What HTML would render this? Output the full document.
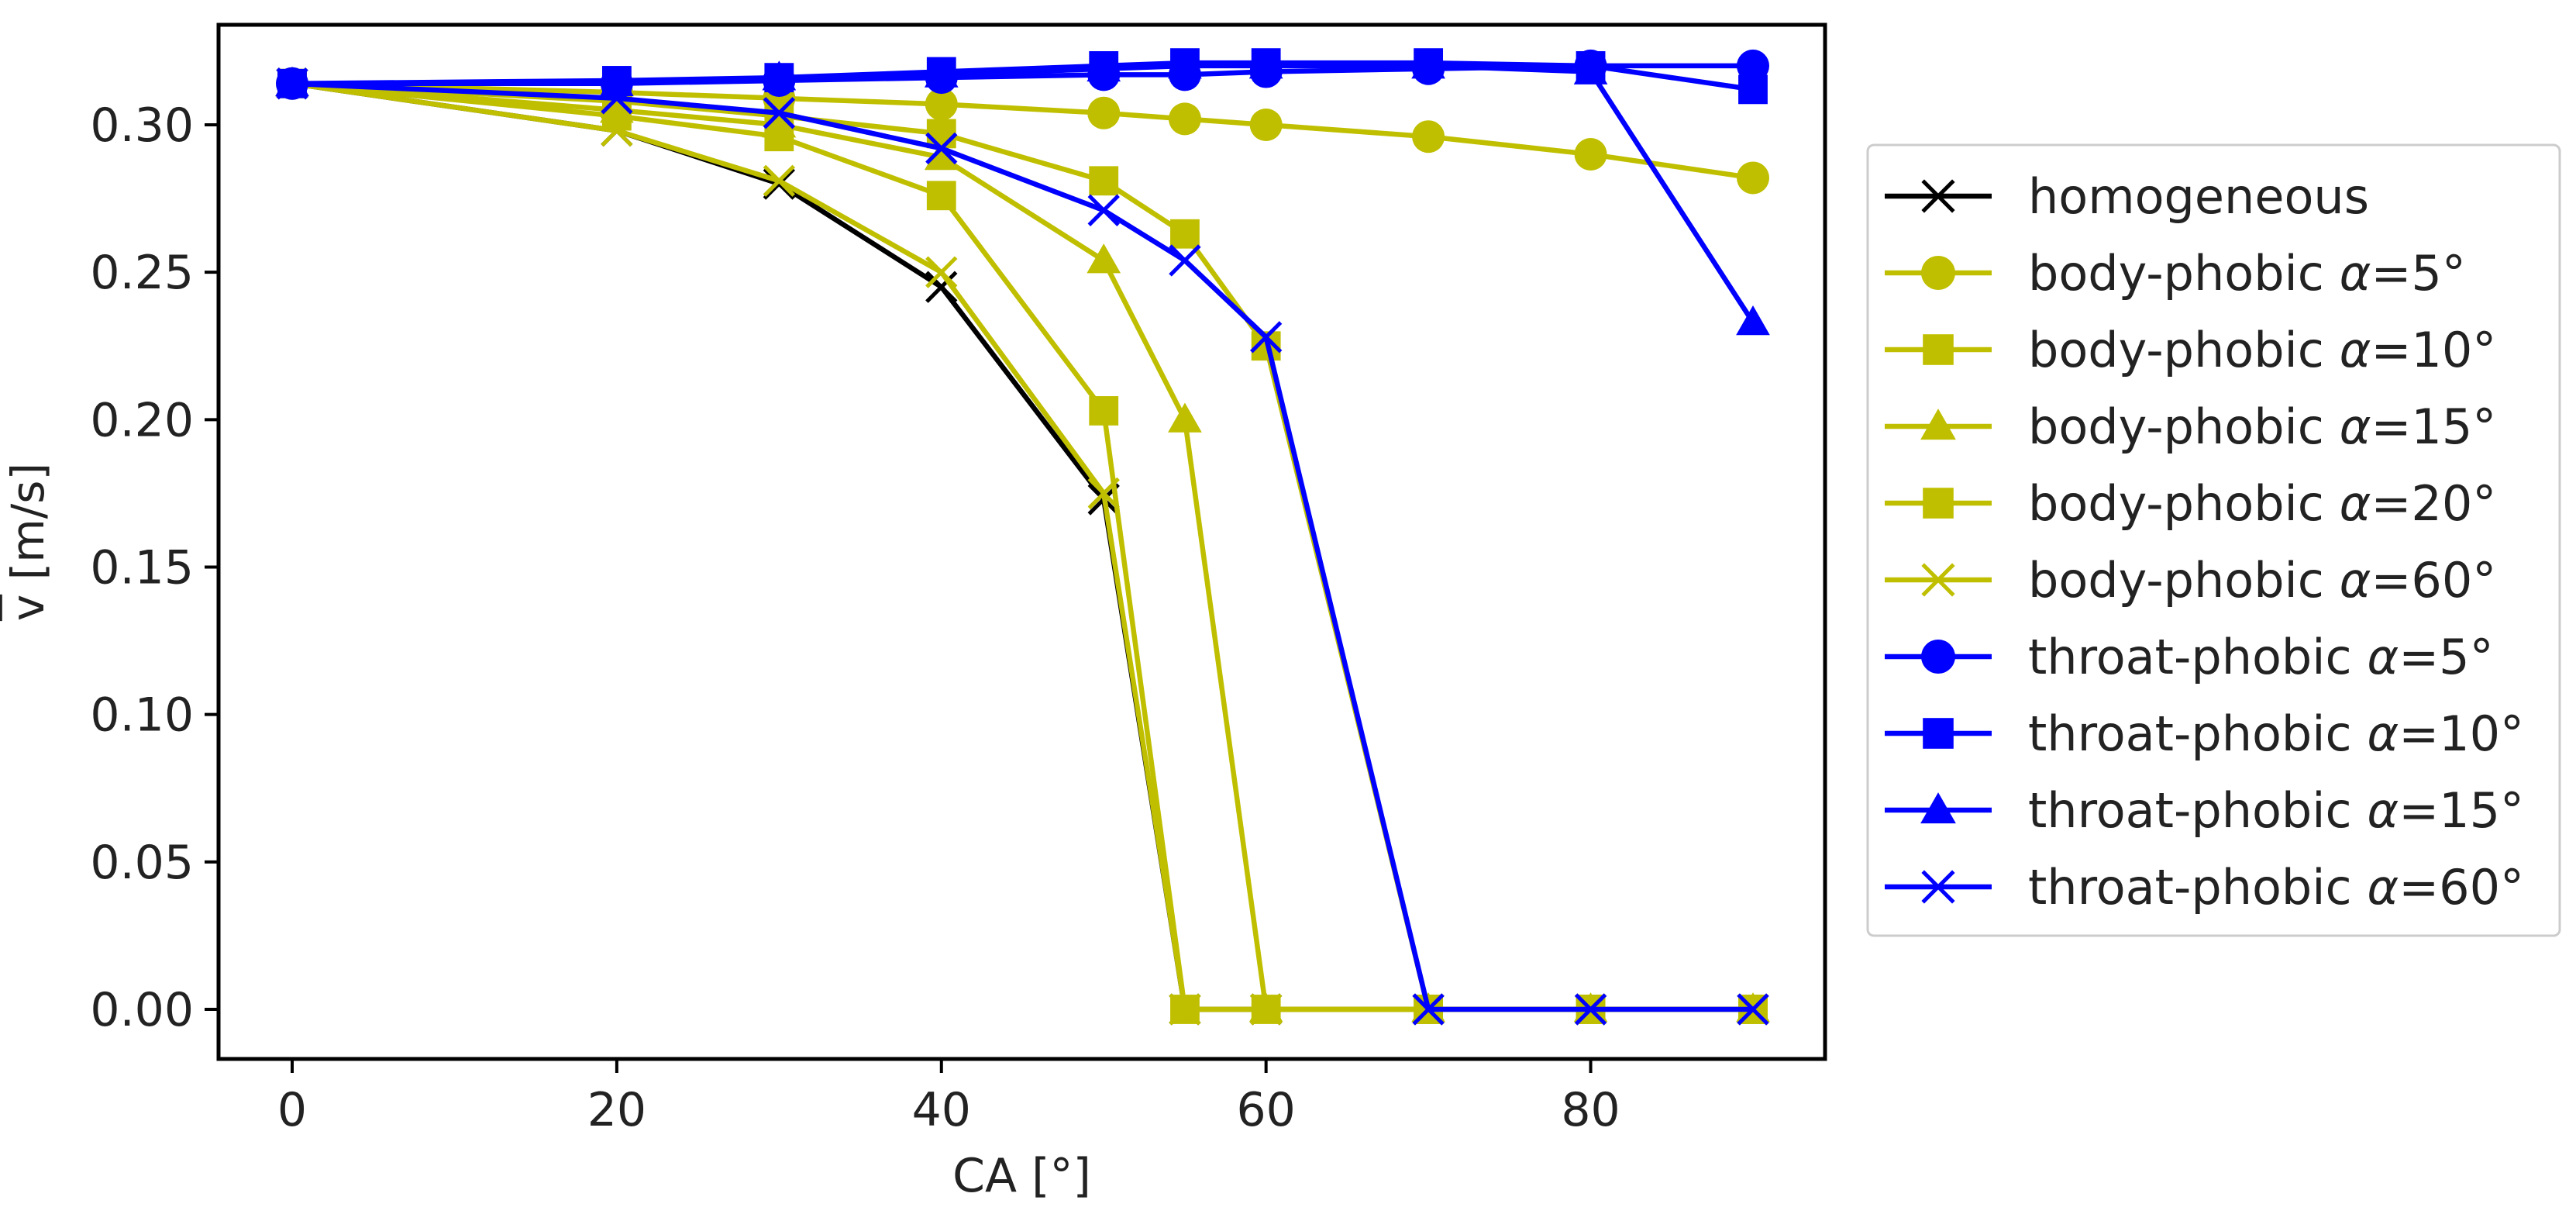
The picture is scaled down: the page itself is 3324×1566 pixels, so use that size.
<!DOCTYPE html>
<html><head><meta charset="utf-8"><style>
html,body{margin:0;padding:0;background:#fff}
svg{display:block;font-family:"DejaVu Sans","Liberation Sans",sans-serif}
</style></head><body>
<svg id="c" width="3324" height="1566" viewBox="0 0 3324 1566"></svg>
<script>
const categories=[0,20,30,40,50,55,60,70,80,90];
const homogeneous=[0.314,0.298,0.280,0.245,0.173,0,0,0,0,0];
const body5=[0.314,0.311,0.309,0.307,0.304,0.302,0.300,0.296,0.290,0.282];
const body10=[0.314,0.308,0.303,0.297,0.281,0.263,0.225,0,0,0];
const body15=[0.314,0.305,0.300,0.289,0.254,0.200,0,0,0,0];
const body20=[0.314,0.303,0.296,0.276,0.203,0,0,0,0,0];
const body60=[0.314,0.298,0.281,0.250,0.175,0,0,0,0,0];
const throat5=[0.314,0.314,0.315,0.316,0.317,0.317,0.318,0.319,0.320,0.320];
const throat10=[0.314,0.315,0.316,0.318,0.320,0.321,0.321,0.321,0.320,0.312];
const throat15=[0.314,0.314,0.316,0.317,0.319,0.320,0.320,0.320,0.318,0.233];
const throat60=[0.314,0.309,0.304,0.292,0.271,0.254,0.228,0,0,0];
const xTicks=[0,20,40,60,80];
const yTicks=[0,0.05,0.10,0.15,0.20,0.25,0.30];
const seriesPrefix=["homogeneous","body-phobic ","body-phobic ","body-phobic ","body-phobic ","body-phobic ","throat-phobic ","throat-phobic ","throat-phobic ","throat-phobic "];
const seriesAlpha=[null,"5°","10°","15°","20°","60°","5°","10°","15°","60°"];

const Y='#bfbf00',B='#0000ff',K='#000';
const series=[
 {v:homogeneous,c:K,m:'x'},{v:body5,c:Y,m:'o'},{v:body10,c:Y,m:'s'},{v:body15,c:Y,m:'^'},{v:body20,c:Y,m:'s'},{v:body60,c:Y,m:'x'},
 {v:throat5,c:B,m:'o'},{v:throat10,c:B,m:'s'},{v:throat15,c:B,m:'^'},{v:throat60,c:B,m:'x'}];
const L=282,R=2355,T=32,Bt=1366;
const xs=v=>377+(v-0)*(2262-377)/90;
const ys=v=>1302-(v)*(1302-161)/0.30;
const svg=document.getElementById('c');
const NS='http://www.w3.org/2000/svg';
function el(t,a,p){const e=document.createElementNS(NS,t);for(const k in a)e.setAttribute(k,a[k]);(p||svg).appendChild(e);return e;}
function marker(g,m,x,y,c,sz){
 if(m==='o')return el('circle',{cx:x,cy:y,r:sz/2,fill:c},g);
 if(m==='s')return el('rect',{x:x-sz*0.45,y:y-sz*0.45,width:sz*0.9,height:sz*0.9,fill:c},g);
 if(m==='^'){const h=sz*0.52;return el('polygon',{points:`${x},${y-h} ${x+h},${y+h*0.75} ${x-h},${y+h*0.75}`,fill:c},g);}
 const h=sz*0.45;const p=el('path',{d:`M${x-h},${y-h}L${x+h},${y+h}M${x-h},${y+h}L${x+h},${y-h}`,stroke:c,'stroke-width':5,fill:'none'},g);return p;
}
xTicks.forEach(t=>{
 const l=el('line',{x1:xs(t),x2:xs(t),y1:Bt,y2:Bt+18,stroke:'#000','stroke-width':4});
 
 const tx=el('text',{x:xs(t),y:Bt+86,'font-size':60,'text-anchor':'middle',fill:'#222'});tx.textContent=t;
 
});
yTicks.forEach(t=>{
 const l=el('line',{x1:L-18,x2:L,y1:ys(t),y2:ys(t),stroke:'#000','stroke-width':4});
 
 const tx=el('text',{x:L-32,y:ys(t)+21,'font-size':60,'text-anchor':'end',fill:'#222'});tx.textContent=t.toFixed(2);
 
});
series.forEach((s,i)=>{
 const g=el('g',{});
 
 const pts=categories.map((c,j)=>xs(c)+','+ys(s.v[j])).join(' ');
 el('polyline',{points:pts,fill:'none',stroke:s.c,'stroke-width':6.5,'stroke-linejoin':'round'},g);
 categories.forEach((c,j)=>{const mk=marker(g,s.m,xs(c),ys(s.v[j]),s.c,42);
  });
});
const frame=el('rect',{x:L,y:T,width:R-L,height:Bt-T,fill:'none',stroke:'#000','stroke-width':5});

const xl=el('text',{x:(L+R)/2,y:1537,'font-size':60,'text-anchor':'middle',fill:'#222'});xl.textContent='CA [°]';

const yl=el('text',{x:0,y:0,'font-size':58,'text-anchor':'middle',fill:'#222',transform:`translate(56,${(T+Bt)/2}) rotate(-90)`});
yl.innerHTML='<tspan text-decoration="overline">v</tspan> [m/s]';

const lg=el('g',{});

el('rect',{x:2410,y:187,width:893,height:1020,rx:8,fill:'#fff',stroke:'#ccc','stroke-width':3},lg);
series.forEach((s,i)=>{
 const y=253+i*99;
 const e=el('g',{},lg);
 
 el('line',{x1:2432,x2:2570,y1:y,y2:y,stroke:s.c,'stroke-width':6.5},e);
 marker(e,s.m,2501,y,s.c,44);
 const t=el('text',{x:2617,y:y+22,'font-size':62,fill:'#222'},e);
 if(seriesAlpha[i]===null){t.textContent=seriesPrefix[i];}
 else{t.textContent=seriesPrefix[i];const a=el('tspan',{'font-style':'italic'},t);a.textContent='α';t.appendChild(document.createTextNode('='+seriesAlpha[i]));}
});
</script>
</body></html>
